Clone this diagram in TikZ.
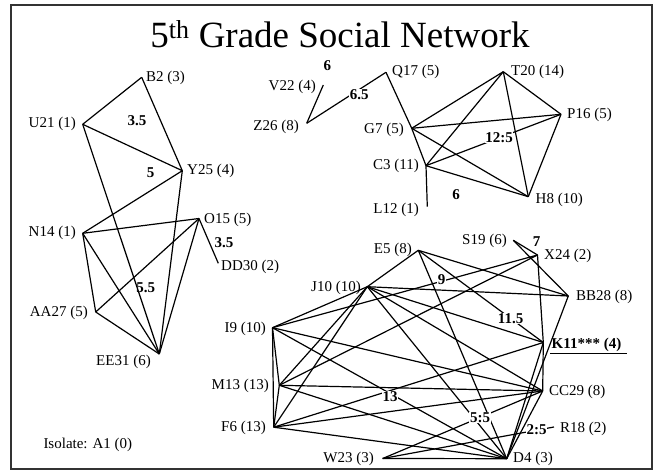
\documentclass[tikz,border=0pt]{standalone}
\usepackage{fontspec}
\setmainfont{Liberation Serif}
\begin{document}
\begin{tikzpicture}[x=1pt,y=-1pt,
  edge/.style={line width=1.2pt,black},
  lbl/.style={font=\fontsize{15}{15}\selectfont,inner sep=0pt,text=black},
  num/.style={font=\fontsize{15}{15}\selectfont\bfseries,inner sep=0.6pt},
  wnum/.style={num,fill=white},
  frame/.style={line width=2pt,black!80}]
\useasboundingbox (0,0) rectangle (657,476);
\fill[white] (0,0) rectangle (657,476);
\draw[frame] (11,5) rectangle (652,469);
\node[font=\fontsize{37}{37}\selectfont,inner sep=0pt] (title) at (340,34) {5\textsuperscript{th} Grade Social Network};

% ---------- left cluster
\coordinate (B2) at (141.7,77.3);
\coordinate (U21) at (82.7,124.3);
\coordinate (Y25) at (182.3,170.7);
\coordinate (O15) at (199,218.5);
\coordinate (N14) at (82.7,233.3);
\coordinate (DD30) at (218.3,263.3);
\coordinate (AA27) at (95.7,312);
\coordinate (EE31) at (159.3,354);
\draw[edge] (B2) -- (U21);
\draw[edge] (B2) -- (Y25);
\draw[edge] (U21) -- (Y25);
\draw[edge] (U21) -- (EE31);
\draw[edge] (Y25) -- (N14);
\draw[edge] (Y25) -- (EE31);
\draw[edge] (N14) -- (O15);
\draw[edge] (N14) -- (AA27);
\draw[edge] (N14) -- (EE31);
\draw[edge] (O15) -- (AA27);
\draw[edge] (O15) -- (EE31);
\draw[edge] (O15) -- (DD30);
\draw[edge] (AA27) -- (EE31);
\node[lbl,anchor=west] (tB2) at (146,78) {B2 (3)};
\node[lbl,anchor=east] (tU21) at (76,124.3) {U21 (1)};
\node[lbl,anchor=west] (tY25) at (187,171) {Y25 (4)};
\node[lbl,anchor=west] (tO15) at (204,220) {O15 (5)};
\node[lbl,anchor=east] (tN14) at (76,233.3) {N14 (1)};
\node[lbl,anchor=west] (tDD30) at (221,266.5) {DD30 (2)};
\node[lbl,anchor=east] (tAA27) at (88,313) {AA27 (5)};
\node[lbl,anchor=east] (tEE31) at (151,362) {EE31 (6)};
\node[num] (w1) at (137,121) {3.5};
\node[num] (w2) at (150.7,172.7) {5};
\node[num] (w3) at (145.8,287.5) {5.5};
\node[num] (w4) at (224,242.7) {3.5};
\node[lbl,anchor=west] (iso) at (43.3,445) {Isolate: A1 (0)};

% ---------- top cluster
\coordinate (V22) at (323.3,85);
\coordinate (Z26) at (306.7,123.3);
\coordinate (Q17) at (386,72.3);
\coordinate (G7) at (411.7,128.3);
\coordinate (C3) at (426,165.7);
\coordinate (L12) at (427.3,206.7);
\coordinate (T20) at (503.3,71.7);
\coordinate (P16) at (561,114.3);
\coordinate (H8) at (528.3,196.7);
\draw[edge] (V22) -- (Z26);
\draw[edge] (Z26) -- (Q17);
\draw[edge] (Q17) -- (G7);
\draw[edge] (G7) -- (C3);
\draw[edge] (C3) -- (L12);
\draw[edge] (G7) -- (T20);
\draw[edge] (G7) -- (P16);
\draw[edge] (G7) -- (H8);
\draw[edge] (C3) -- (T20);
\draw[edge] (C3) -- (P16);
\draw[edge] (C3) -- (H8);
\draw[edge] (T20) -- (P16);
\draw[edge] (T20) -- (H8);
\draw[edge] (P16) -- (H8);
\node[lbl,anchor=east] (tV22) at (316,87) {V22 (4)};
\node[lbl,anchor=east] (tZ26) at (299,126.5) {Z26 (8)};
\node[lbl,anchor=west] (tQ17) at (392,72) {Q17 (5)};
\node[lbl,anchor=east] (tG7) at (404,130) {G7 (5)};
\node[lbl,anchor=east] (tC3) at (419,166) {C3 (11)};
\node[lbl,anchor=east] (tL12) at (419,210) {L12 (1)};
\node[lbl,anchor=west] (tT20) at (511,72) {T20 (14)};
\node[lbl,anchor=west] (tP16) at (567,115) {P16 (5)};
\node[lbl,anchor=west] (tH8) at (535.5,199.5) {H8 (10)};
\node[num] (w5) at (327.3,66) {6};
\node[wnum] (w6) at (359.3,95) {6.5};
\node[wnum] (w7) at (499,137.3) {12:5};
\node[num] (w8) at (456,195) {6};

% ---------- bottom-right cluster
\coordinate (E5) at (418.3,250.3);
\coordinate (J10) at (367.3,286.7);
\coordinate (I9) at (272.5,327.7);
\coordinate (M13) at (279.3,385.3);
\coordinate (F6) at (273.7,427.2);
\coordinate (W23) at (382.7,458.5);
\coordinate (D4) at (506.7,458.7);
\coordinate (CC29) at (542.7,391);
\coordinate (R18) at (554,427);
\coordinate (K11) at (543.3,342.5);
\coordinate (BB28) at (568.3,296);
\coordinate (X24) at (537.5,255);
\coordinate (S19) at (513.3,240.3);
\foreach \a/\b in {E5/J10,E5/BB28,E5/K11,E5/D4,
  J10/I9,J10/BB28,J10/K11,J10/CC29,J10/D4,J10/M13,J10/F6,
  I9/X24,I9/M13,I9/F6,I9/CC29,I9/D4,
  M13/F6,M13/X24,M13/CC29,M13/D4,
  F6/K11,F6/CC29,F6/D4,
  W23/D4,W23/CC29,W23/R18,
  D4/CC29,D4/K11,D4/BB28,
  S19/X24,S19/BB28,X24/K11,K11/CC29}
  \draw[edge] (\a) -- (\b);
\node[lbl,anchor=east] (tE5) at (412,250) {E5 (8)};
\node[lbl,anchor=east] (tJ10) at (361,287.5) {J10 (10)};
\node[lbl,anchor=east] (tI9) at (266,328.5) {I9 (10)};
\node[lbl,anchor=east] (tM13) at (269,386) {M13 (13)};
\node[lbl,anchor=east] (tF6) at (266,428) {F6 (13)};
\node[lbl,anchor=east] (tW23) at (374,458.5) {W23 (3)};
\node[lbl,anchor=west] (tD4) at (513,459) {D4 (3)};
\node[lbl,anchor=west] (tCC29) at (549,392) {CC29 (8)};
\node[lbl,anchor=west] (tR18) at (560,428.5) {R18 (2)};
\node[lbl,anchor=west,font=\fontsize{15}{15}\selectfont\bfseries] (tK11) at (551.5,344.5) {K11*** (4)};
\draw[line width=1.8pt] (550,353.5) -- (627,353.5);
\node[lbl,anchor=west] (tBB28) at (576,296.5) {BB28 (8)};
\node[lbl,anchor=west] (tX24) at (544,255.5) {X24 (2)};
\node[lbl,anchor=east] (tS19) at (507,240.5) {S19 (6)};
\node[num] (w9) at (536.7,242) {7};
\node[wnum] (w10) at (441.7,279.5) {9};
\node[wnum] (w11) at (510.7,318.3) {11.5};
\node[wnum] (w12) at (390,396.7) {13};
\node[wnum] (w13) at (480,417.5) {5:5};
\node[wnum] (w14) at (536.7,429.3) {2:5};
\end{tikzpicture}
\end{document}
